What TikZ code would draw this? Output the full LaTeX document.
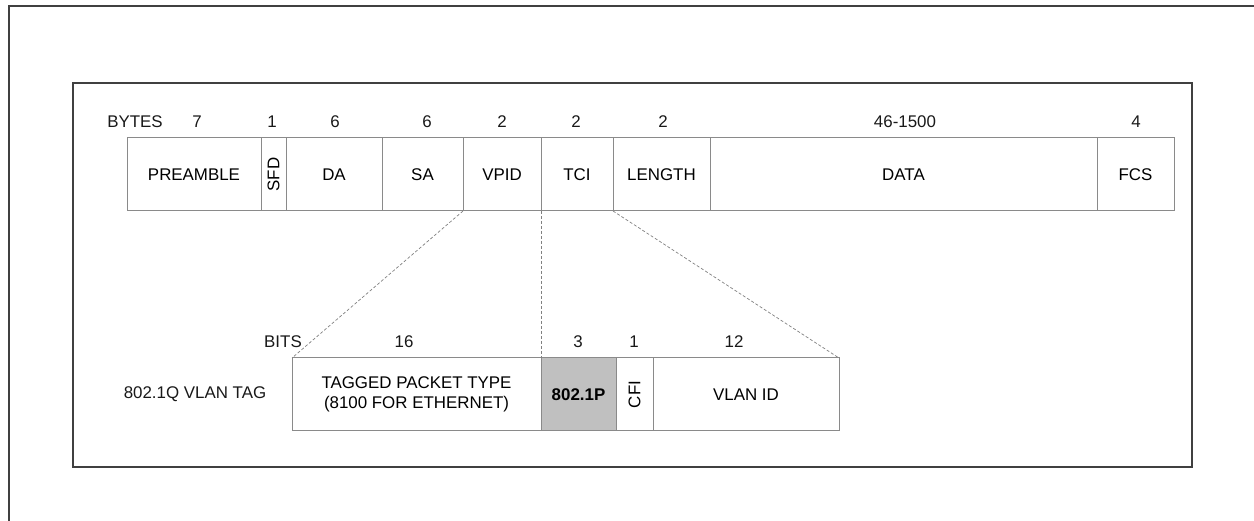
\documentclass[tikz,border=0pt]{standalone}
\usepackage{fontspec}
\setmainfont{Liberation Sans}
\definecolor{boxgray}{HTML}{8A8A8A}
\definecolor{framegray}{HTML}{404040}
\definecolor{fillgray}{HTML}{C0C0C0}
\begin{document}
\begin{tikzpicture}[x=1pt,y=-1pt,
  font=\fontsize{16.9}{19.5}\selectfont,
  box/.style={draw=boxgray, line width=1pt, inner sep=0pt, outer sep=0pt,
    anchor=north west, minimum height=73pt, align=center},
  lbl/.style={inner sep=0pt, text=black!90},
  frameline/.style={draw=framegray, line width=2pt},
  guide/.style={draw=gray, line width=0.7pt, dash pattern=on 3pt off 2pt}]
\useasboundingbox (0,0) rectangle (1254,521);
% outer frame (cut off at right and bottom)
\draw[frameline, line width=2.4pt] (9,521) -- (9,6) -- (1254,6);
% inner frame
\draw[frameline] (73,83) rectangle (1192,467);

% top row
\node[box, minimum width=134pt] (pre) at (127,138) {PREAMBLE};
\node[box, minimum width=25pt] (sfd) at (261,138) {\rotatebox{90}{SFD}};
\node[box, minimum width=96pt] (da) at (286,138) {DA};
\node[box, minimum width=81pt] (sa) at (382,138) {SA};
\node[box, minimum width=78pt] (vpid) at (463,138) {VPID};
\node[box, minimum width=72pt] (tci) at (541,138) {TCI};
\node[box, minimum width=97pt] (len) at (613,138) {\raisebox{-2pt}{LENGTH}};
\node[box, minimum width=387pt] (data) at (710,138) {DATA};
\node[box, minimum width=77pt] (fcs) at (1097,138) {FCS};

\node[lbl] (bytes) at (135,122) {BYTES};
\node[lbl] (n1) at (197,122) {7};
\node[lbl] (n2) at (272,122) {1};
\node[lbl] (n3) at (335,122) {6};
\node[lbl] (n4) at (427,122) {6};
\node[lbl] (n5) at (502,122) {2};
\node[lbl] (n6) at (576,122) {2};
\node[lbl] (n7) at (663,122) {2};
\node[lbl] (n8) at (905,122) {46-1500};
\node[lbl] (n9) at (1136,122) {4};

% bottom row
\node[box, minimum width=249pt] (tpt) at (292,358) {TAGGED PACKET TYPE\\(8100 FOR ETHERNET)};
\node[box, minimum width=75pt, fill=fillgray] (prio) at (541,358) {\bfseries 802.1P};
\node[box, minimum width=37pt] (cfi) at (616,358) {\rotatebox{90}{CFI}};
\node[box, minimum width=186pt] (vid) at (653,358) {VLAN ID};

\node[lbl] (bits) at (283,342) {BITS};
\node[lbl] (b1) at (404,342) {16};
\node[lbl] (b2) at (578,342) {3};
\node[lbl] (b3) at (634,342) {1};
\node[lbl] (b4) at (734,342) {12};
\node[lbl] (tag) at (195,394) {802.1Q VLAN TAG};

% guide lines
\draw[guide] (sa.south east) -- (tpt.north west);
\draw[guide] (tci.south west) -- (prio.north west);
\draw[guide] (len.south west) -- (vid.north east);
\end{tikzpicture}
\end{document}
